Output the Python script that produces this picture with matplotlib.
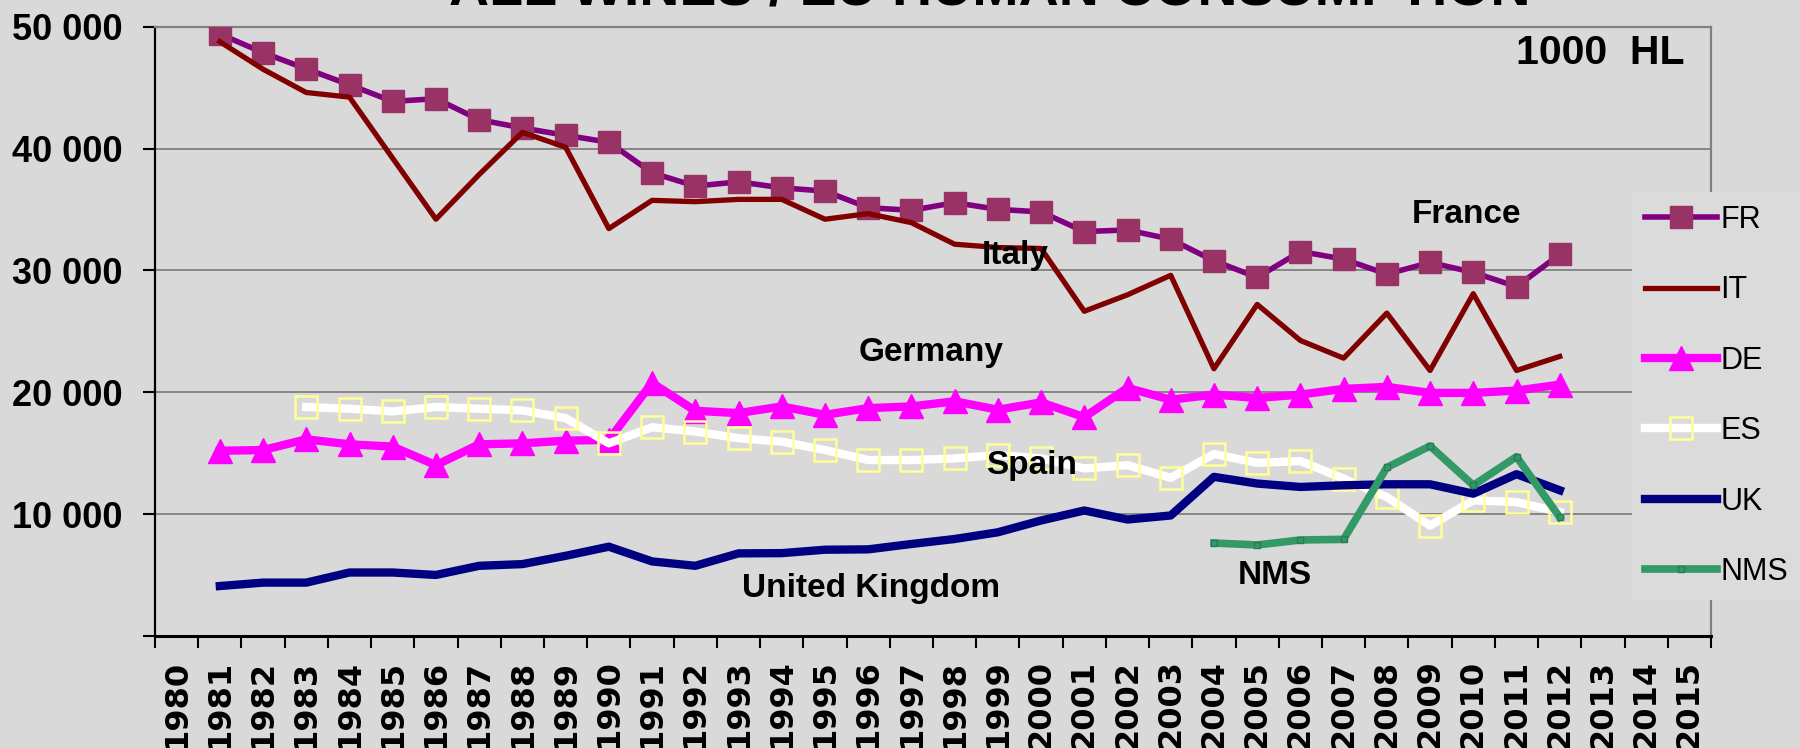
import numpy as np
import matplotlib
matplotlib.use("Agg")
import matplotlib.pyplot as plt

# Data (1000 HL)
years = list(range(1981, 2013))
fr = [49400, 47870, 46540, 45230, 43870, 44090, 42370, 41690, 41090, 40520,
      38010, 36920, 37270, 36780, 36510, 35150, 34930, 35560, 35010, 34800,
      33190, 33320, 32560, 30790, 29430, 31550, 30930, 29700, 30650, 29840,
      28670, 31310]
it = [48770, 46510, 44600, 44220, 39200, 34200, 37870, 41330, 40110, 33430,
      35750, 35640, 35830, 35830, 34200, 34660, 33920, 32150, 31880, 31800,
      26650, 28000, 29600, 21930, 27210, 24250, 22800, 26500, 21790, 28090,
      21790, 22940]
de = [15200, 15260, 16140, 15730, 15540, 14020, 15730, 15810, 16030, 16090,
      20770, 18480, 18290, 18840, 18150, 18700, 18840, 19260, 18570, 19170,
      17960, 20360, 19390, 19810, 19530, 19810, 20280, 20440, 19950, 19950,
      20140, 20630]
es = [np.nan, np.nan, 18790, 18650, 18430, 18790, 18650, 18510, 17880, 15810,
      17130, 16780, 16230, 15950, 15260, 14440, 14440, 14570, 14850, 14570,
      13750, 14020, 12980, 14930, 14210, 14350, 12920, 11400, 9060, 11130,
      10990, 10170]
uk = [4100, 4380, 4380, 5210, 5210, 5010, 5760, 5900, 6580, 7330,
      6120, 5760, 6780, 6800, 7080, 7110, 7550, 7960, 8510, 9480,
      10300, 9560, 9890, 13060, 12510, 12230, 12370, 12450, 12450, 11680,
      13280, 11960]
nms = [np.nan] * 23 + [7630, 7470, 7880, 7930, 13830, 15590, 12370, 14710, 9750]

axis_years = list(range(1980, 2016))
y_ticks = [0, 10000, 20000, 30000, 40000, 50000]

bg = '#d9d9d9'
fig = plt.figure(figsize=(18, 7.48), dpi=100, facecolor=bg)
ax = fig.add_axes([155 / 1800, 1 - 636 / 748, (1711 - 155) / 1800, (636 - 26.7) / 748])
ax.set_facecolor(bg)

ax.plot(years, fr, color='#800080', lw=4, marker='s', ms=16,
        mfc='#993366', mec='#993366', label='FR', zorder=3)
ax.plot(years, it, color='#800000', lw=3.8, label='IT', zorder=4)
ax.plot(years, de, color='#ff00ff', lw=6, marker='^', ms=17,
        mfc='#ff00ff', mec='#ff00ff', label='DE', zorder=5)
ax.plot(years, es, color='white', lw=6, marker='s', ms=16.5,
        mfc='none', mec='#ffff99', mew=1.8, label='ES', zorder=6)
ax.plot(years, uk, color='#000080', lw=6, label='UK', zorder=7)
ax.plot(years, nms, color='#339966', lw=5.5, marker='s', ms=5,
        mfc='#339966', mec='#2a7a52', label='NMS', zorder=8)

ax.set_xlim(1979.5, 2015.5)
ax.set_ylim(0, 50000)

# y axis
ax.set_yticks(y_ticks)
ax.set_yticklabels([''] + ['{:,}'.format(v).replace(',', ' ') for v in y_ticks[1:]],
                   fontsize=26, fontweight='bold', family='Liberation Sans')
ax.tick_params(axis='y', direction='out', length=8.6, width=1.5, color='black', pad=15)
ax.grid(axis='y', color='#808080', lw=1.3, zorder=1)

# x axis: tick marks between categories, labels on category centres
ax.set_xticks([y - 0.5 for y in axis_years] + [axis_years[-1] + 0.5])
ax.set_xticklabels([])
ax.tick_params(axis='x', which='major', direction='out', length=8.6, width=1.5, color='black')
ax.set_xticks(axis_years, minor=True)
ax.set_xticklabels([str(y) for y in axis_years], minor=True, rotation=90,
                   fontsize=23, fontweight='bold', family='DejaVu Sans', va='top')
ax.tick_params(axis='x', which='minor', length=0, pad=17)

for s in ['left', 'bottom']:
    ax.spines[s].set_color('black')
ax.spines['left'].set_linewidth(1.6)
ax.spines['bottom'].set_linewidth(2.2)
for s in ['top', 'right']:
    ax.spines[s].set_color('#808080')
    ax.spines[s].set_linewidth(1.6)

# series labels
lab = dict(fontsize=24, fontweight='bold', family='Liberation Sans',
           ha='center', va='center', zorder=10)
ax.text(1999.4, 31240, 'Italy', **lab)
ax.text(1997.46, 23270, 'Germany', **lab)
ax.text(2009.85, 34610, 'France', **lab)
ax.text(1999.78, 13990, 'Spain', **lab)
ax.text(1996.07, 3890, 'United Kingdom', **lab)
ax.text(2005.4, 4950, 'NMS', **lab)
ax.text(2014.9, 47840, '1000  HL', fontsize=29.5, fontweight='bold',
        family='Liberation Sans', ha='right', va='center')

# title, cut off by the top edge as in the reference
fig.text(990 / 1800, 1 - 5 / 748, 'ALL WINES / EU HUMAN CONSUMPTION', fontsize=40,
         fontweight='bold', family='Liberation Sans', ha='center', va='baseline')

leg = ax.legend(loc='center left', bbox_to_anchor=(1632 / 1800, 1 - 396 / 748),
                bbox_transform=fig.transFigure, frameon=True, facecolor='#dbdbdb',
                edgecolor='none', framealpha=1, fancybox=False,
                prop={'family': 'Liberation Sans', 'size': 22},
                handlelength=2.35, handletextpad=0.12, labelspacing=1.32,
                borderpad=0.42, borderaxespad=0)
leg.set_zorder(20)

fig.savefig('out.png', dpi=100, facecolor=bg)
